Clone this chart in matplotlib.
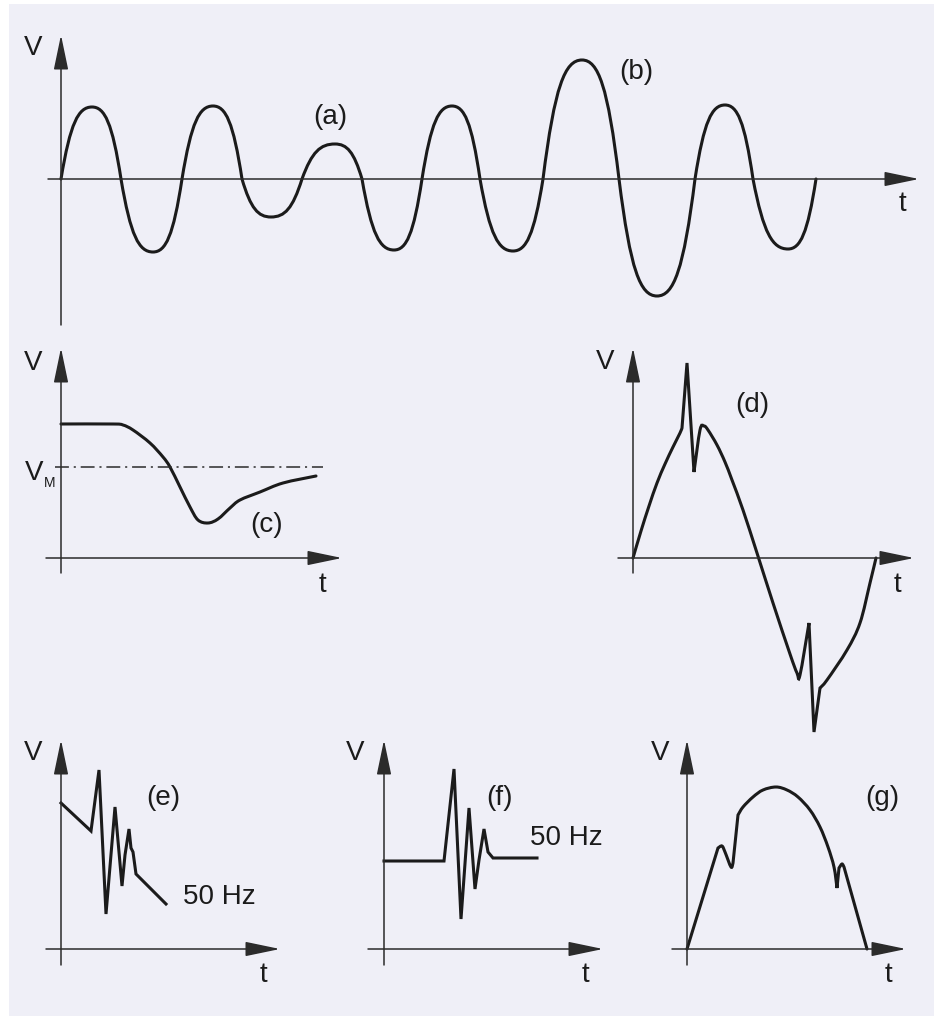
import numpy as np
import matplotlib
matplotlib.use("Agg")
import matplotlib.pyplot as plt
from matplotlib.path import Path
from matplotlib.patches import PathPatch, Rectangle

plt.rcParams['font.family'] = ['Liberation Sans', 'DejaVu Sans']
plt.rcParams['lines.scale_dashes'] = False

# (a)/(b): oscillation, zero crossings, peak positions and half-cycle amplitudes
ab_zero_t = [0, 60, 121, 181, 241, 301, 361, 419, 482, 558, 634, 692, 755]
ab_peak_t = [31, 92, 152, 210, 274, 333, 391, 452, 521, 596, 664, 727]
ab_peak_v = [72, -73, 73, -38, 35, -71, 73, -72, 119, -117, 74, -70]

# (c): dip below V_M
c_t = [0, 52, 62, 72, 89, 102, 109, 119, 129, 137, 147, 157, 169, 179, 199, 222, 255]
c_v = [134, 134, 133, 128, 115, 101, 91, 71, 51, 38, 35, 39, 50, 58, 66, 75, 82]
c_vm = 91

# (d): sine with spikes
d_t = [0, 8, 16, 24, 32, 40, 47, 49, 54, 61, 67, 71, 75, 84, 92, 99, 110, 124,
       140, 157, 164, 167, 176, 181, 187, 194, 214, 227, 237, 243]
d_v = [0, 27, 52, 75, 94, 111, 125, 130, 195, 86, 128, 132, 128, 113, 96, 78, 48, 5,
       -45, -96, -115, -117, -65, -174, -130, -122, -92, -65, -25, 0]
d_corners = [7, 8, 9, 22, 23, 24]

# (e): ringing on a falling 50 Hz slope
e_t = [0, 30, 38, 45, 54, 61, 64, 68, 70, 72, 75, 105]
e_v = [146, 118, 179, 35, 142, 63, 94, 120, 101, 97, 75, 45]

# (f): ringing on a flat 50 Hz level
f_t = [0, 60, 70, 77, 85, 91, 95, 100, 104, 109, 153]
f_v = [88, 88, 180, 30, 141, 60, 89, 120, 97, 91, 91]

# (g): half wave with notches
g_t = [0, 31, 35, 38, 44, 46, 51, 56, 66, 76, 89, 100, 111, 123, 133, 141, 147,
       150, 152, 155, 157, 180]
g_v = [0, 101, 103, 97, 82, 86, 134, 142, 152, 159, 162, 159, 152, 139, 122, 102, 82,
       61, 81, 85, 82, 0]
g_corners = [1, 5, 6, 17, 18, 20]

W, H = 939, 1019
INK = '#1b1b1b'
AXC = '#2b2b2b'
FS = 20
LW = 2.2

fig = plt.figure(figsize=(W / 100, H / 100), dpi=100)
fig.patch.set_facecolor('white')
fig.patches.append(Rectangle((9 / W, (H - 1016) / H), 925 / W, 1012 / H,
                             transform=fig.transFigure, facecolor='#efeff7',
                             edgecolor='none', zorder=-10))


def panel(ox, oy, xmin, xmax, ymin, ymax):
    ax = fig.add_axes([(ox + xmin) / W, (H - oy + ymin) / H,
                       (xmax - xmin) / W, (ymax - ymin) / H])
    ax.set_xlim(xmin, xmax)
    ax.set_ylim(ymin, ymax)
    ax.axis('off')
    return ax


def arrows(ax, tx0, tx1, vy0, vy1):
    style = '-|>,head_length=1.2,head_width=0.25'
    for xy, xyt in [((tx1, 0), (tx0, 0)), ((0, vy1), (0, vy0))]:
        ax.annotate('', xy=xy, xytext=xyt,
                    arrowprops=dict(arrowstyle=style, mutation_scale=18, lw=1.1,
                                    color=AXC, shrinkA=0, shrinkB=0))


def smooth(xs, ys, corners=()):
    # Catmull-Rom through the points, restarted at every corner index
    P = np.column_stack([xs, ys]).astype(float)
    cuts = sorted(set([0, len(P) - 1, *corners]))
    verts, codes = [P[0]], [Path.MOVETO]
    for a, b in zip(cuts[:-1], cuts[1:]):
        seg = P[a:b + 1]
        ext = np.vstack([seg[0], seg, seg[-1]])
        for i in range(len(seg) - 1):
            p0, p1, p2, p3 = ext[i], ext[i + 1], ext[i + 2], ext[i + 3]
            verts += [p1 + (p2 - p0) / 6, p2 - (p3 - p1) / 6, p2]
            codes += [Path.CURVE4] * 3
    return Path(verts, codes)


def draw(ax, path):
    ax.add_patch(PathPatch(path, fill=False, lw=LW, edgecolor=INK,
                           capstyle='round', joinstyle='miter'))


def label(ax, x, y, s, size=FS):
    ax.text(x, y, s, ha='center', va='center', fontsize=size, color=INK)


# ---- (a)/(b)
ax = panel(61, 179, -20, 870, -150, 150)
arrows(ax, -13, 858, -146, 144)
verts, codes = [(ab_zero_t[0], 0)], [Path.MOVETO]
for z0, p, z1, a in zip(ab_zero_t[:-1], ab_peak_t, ab_zero_t[1:], ab_peak_v):
    w1, w2 = p - z0, z1 - p
    verts += [(z0 + 0.30 * w1, 0.78 * a), (z0 + 0.56 * w1, a), (p, a),
              (p + 0.44 * w2, a), (p + 0.70 * w2, 0.78 * a), (z1, 0)]
    codes += [Path.CURVE4] * 6
draw(ax, Path(verts, codes))
label(ax, -28, 131, 'V')
label(ax, 841, -25, 't')
label(ax, 269, 62, '(a)')
label(ax, 575, 107, '(b)')

# ---- (c)
ax = panel(61, 558, -40, 300, -40, 220)
arrows(ax, -15, 281, -15, 210)
ax.plot([-6, 262], [c_vm, c_vm], color=AXC, lw=1.1,
        linestyle=(0, (10, 3.5, 1.5, 3.5)))
draw(ax, smooth(c_t, c_v))
label(ax, -28, 195, 'V')
label(ax, 261, -27, 't')
label(ax, 206, 33, '(c)')
label(ax, -27, 85, 'V')
label(ax, -11, 75, 'M', size=10)

# ---- (d)
ax = panel(633, 558, -40, 300, -190, 220)
arrows(ax, -15, 281, -15, 210)
draw(ax, smooth(d_t, d_v, d_corners))
label(ax, -28, 196, 'V')
label(ax, 264, -27, 't')
label(ax, 119, 153, '(d)')

# ---- (e)
ax = panel(61, 949, -40, 240, -40, 220)
arrows(ax, -15, 219, -16, 209)
ax.plot(e_t, e_v, color=INK, lw=LW, solid_joinstyle='miter')
label(ax, -28, 196, 'V')
label(ax, 202, -26, 't')
label(ax, 102, 151, '(e)')
label(ax, 158, 52, '50 Hz')

# ---- (f)
ax = panel(384, 949, -40, 240, -40, 220)
arrows(ax, -16, 219, -16, 209)
ax.plot(f_t, f_v, color=INK, lw=LW, solid_joinstyle='miter')
label(ax, -29, 196, 'V')
label(ax, 201, -26, 't')
label(ax, 115, 151, '(f)')
label(ax, 182, 111, '50 Hz')

# ---- (g)
ax = panel(687, 949, -40, 240, -40, 220)
arrows(ax, -15, 219, -16, 209)
draw(ax, smooth(g_t, g_v, g_corners))
label(ax, -27, 196, 'V')
label(ax, 201, -26, 't')
label(ax, 195, 151, '(g)')

fig.savefig('out.png', dpi=100, facecolor=fig.get_facecolor())
